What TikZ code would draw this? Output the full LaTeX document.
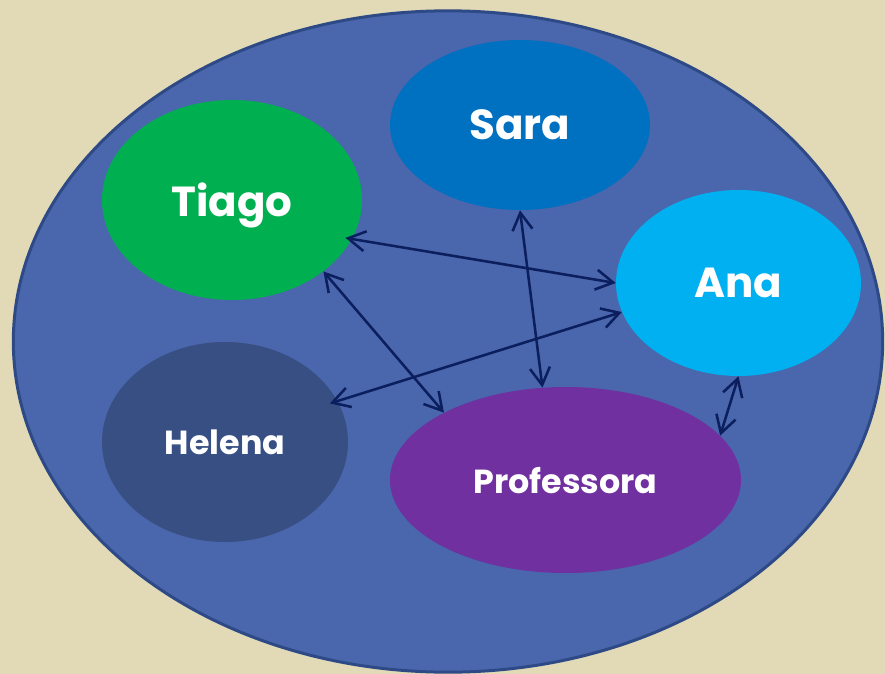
\documentclass[tikz,border=0pt]{standalone}
\usepackage{fontspec}
\setmainfont{Poppins}
\usetikzlibrary{shapes.geometric, arrows.meta}
\definecolor{bgc}{HTML}{E2DAB7}
\definecolor{bigc}{HTML}{4A66AC}
\definecolor{bigb}{HTML}{2E4A86}
\definecolor{tiagoc}{HTML}{00B050}
\definecolor{sarac}{HTML}{0070C0}
\definecolor{anac}{HTML}{00B0F0}
\definecolor{helenac}{HTML}{384F83}
\definecolor{profc}{HTML}{7030A0}
\definecolor{linkc}{HTML}{0B1F5E}
\begin{document}
\begin{tikzpicture}[x=0.75pt, y=-0.75pt,
  bubble/.style={ellipse, inner sep=0pt, text=white, font=\bfseries, text depth=0pt},
  bigname/.style={font=\bfseries\fontsize{31.5}{38}\selectfont},
  smallname/.style={font=\bfseries\fontsize{25}{30}\selectfont},
  link/.style={draw=linkc, line width=1.9pt,
    {Straight Barb[length=13pt,width=15pt]}-{Straight Barb[length=13pt,width=15pt]}}]
  \fill[bgc] (0,0) rectangle (885,674);
  \useasboundingbox (0,0) rectangle (885,674);
  \node[ellipse, fill=bigc, draw=bigb, line width=2.25pt, minimum width=652pt, minimum height=496pt] (group) at (448,341.5) {};
  \node[bubble, bigname, fill=tiagoc, minimum width=195pt, minimum height=150pt] (tiago) at (232,200) {Tiago};
  \node[bubble, bigname, fill=sarac, minimum width=195pt, minimum height=127.5pt] (sara) at (520,125) {Sara};
  \node[bubble, bigname, fill=anac, minimum width=183.75pt, minimum height=139.5pt] (ana) at (738.5,283) {Ana};
  \node[bubble, smallname, fill=helenac, minimum width=184.5pt, minimum height=150pt] (helena) at (225,442) {Helena};
  \node[bubble, smallname, fill=profc, minimum width=263.25pt, minimum height=139.5pt] (prof) at (565.5,480) {Professora};
  \draw[link, shorten <=-5pt] (tiago.-18) -- (ana.180);
  \draw[link] (tiago.-38) -- (prof.151.5);
  \draw[link] (sara.-90) -- (prof.104);
  \draw[link, shorten <=-6pt] (helena.20) -- (ana.194);
  \draw[link] (ana.-90) -- (prof.16.5);
\end{tikzpicture}
\end{document}
